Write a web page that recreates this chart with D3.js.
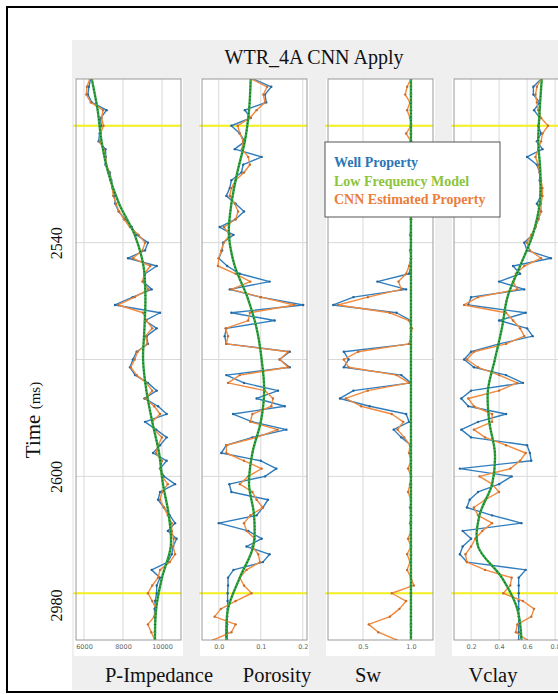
<!DOCTYPE html>
<html>
<head>
<meta charset="utf-8">
<script src="https://cdn.jsdelivr.net/npm/d3@7"></script>
<style>
  body { margin: 0; background: #fff; }
  svg { display: block; }
</style>
</head>
<body>
<svg id="chart" width="558" height="694"></svg>
<script>
// sample times (ms), one value every 2 ms
let times = [2498, 2500, 2502, 2504, 2506, 2508, 2510, 2512, 2514, 2516, 2518, 2520, 2522, 2524, 2526,
  2528, 2530, 2532, 2534, 2536, 2538, 2540, 2542, 2544, 2546, 2548, 2550, 2552, 2554, 2556, 2558,
  2560, 2562, 2564, 2566, 2568, 2570, 2572, 2574, 2576, 2578, 2580, 2582, 2584, 2586, 2588, 2590,
  2592, 2594, 2596, 2598, 2600, 2602, 2604, 2606, 2608, 2610, 2612, 2614, 2616, 2618, 2620, 2622,
  2624, 2626, 2628, 2630, 2632, 2634, 2636, 2638, 2640, 2642]

// low frequency model is smooth, read at a coarser step
let lfmTimes = [2498, 2506, 2514, 2522, 2530, 2538, 2546, 2554, 2562, 2570, 2578, 2586, 2594,
  2602, 2610, 2618, 2626, 2634, 2642]

// P-Impedance
let impWell = [6340, 6250, 6200, 6400, 7160, 6850, 6880, 6800, 6750, 7100, 7120, 7100, 7330, 7400, 7490,
  7550, 7600, 7780, 8100, 8450, 8700, 9280, 9130, 8260, 9730, 9130, 9030, 9470, 8500, 7590, 9900,
  9130, 9730, 9210, 9280, 8700, 8510, 8360, 8620, 9280, 9730, 9100, 9800, 10240, 9130, 9700, 10240,
  9900, 9540, 10240, 9900, 10100, 10670, 9900, 9800, 10100, 10400, 10670, 10300, 10750, 10570, 10500, 10300,
  9470, 9900, 9730, 9730, 9650, 9620, 9620, 9640, 9640, 9640]
let impCnn = [6300, 6150, 6120, 6350, 6980, 6900, 7000, 6850, 6800, 7000, 7100, 7150, 7300, 7350, 7450,
  7500, 7650, 7800, 8050, 8350, 8800, 9130, 9000, 8500, 9400, 9100, 9000, 9300, 8600, 7750, 9030,
  9200, 9500, 9150, 9250, 8750, 8600, 8400, 8700, 9200, 9500, 9150, 9600, 9900, 9500, 9600, 10000,
  9800, 9700, 10000, 9900, 10000, 10300, 10000, 9900, 10100, 10300, 10500, 10500, 10600, 10570, 10670, 10400,
  9900, 9800, 9500, 9280, 9500, 9700, 9600, 9280, 9450, 9640]
let impLfm = [6400, 6700, 6900, 7240, 7800, 8600, 9050, 9150, 9100, 9030, 9200, 9500, 9850,
  10050, 10350, 10450, 10000, 9700, 9640]
let impTicks = [6000, 8000, 10000]

// Porosity
let porWell = [0.082, 0.125, 0.110, 0.113, 0.062, 0.076, 0.030, 0.050, 0.062, 0.038, 0.102, 0.058, 0.054, 0.030, 0.026,
  0.018, 0.040, 0.060, 0.040, 0.002, 0.035, 0.010, 0.008, 0.000, 0.020, 0.050, 0.121, 0.026, 0.100, 0.201, 0.030,
  0.133, 0.018, 0.014, 0.018, 0.169, 0.145, 0.169, 0.018, 0.060, 0.141, 0.090, 0.157, 0.034, 0.080, 0.161, 0.080,
  0.018, 0.006, 0.100, 0.137, 0.110, 0.025, 0.030, 0.117, 0.105, 0.090, 0.000, 0.070, 0.102, 0.066, 0.121, 0.105,
  0.035, 0.022, 0.022, 0.021, 0.021, 0.021, 0.020, 0.020, 0.020, 0.020]
let porCnn = [0.078, 0.115, 0.106, 0.110, 0.090, 0.074, 0.045, 0.050, 0.058, 0.055, 0.070, 0.074, 0.060, 0.040, 0.030,
  0.026, 0.038, 0.046, 0.040, 0.012, 0.026, 0.012, 0.006, 0.000, -0.002, 0.040, 0.075, 0.030, 0.100, 0.180, 0.074,
  0.070, 0.016, 0.022, 0.018, 0.165, 0.145, 0.165, 0.050, 0.022, 0.110, 0.129, 0.125, 0.080, 0.075, 0.140, 0.090,
  0.018, 0.018, 0.060, 0.102, 0.070, 0.050, 0.080, 0.090, 0.105, 0.075, 0.060, 0.066, 0.086, 0.080, 0.094, 0.098,
  0.066, 0.050, 0.060, 0.078, 0.040, 0.005, -0.010, 0.040, 0.030, -0.013]
let porLfm = [0.076, 0.072, 0.062, 0.044, 0.030, 0.024, 0.038, 0.068, 0.090, 0.102, 0.108, 0.100, 0.080,
  0.072, 0.084, 0.082, 0.050, 0.022, 0.018]
let porTicks = [0.0, 0.1, 0.2]

// Sw
let swWell = [1, 1, 1, 1, 1, 1, 1, 1, 1, 1, 1, 1, 1, 1, 1,
  1, 1, 1, 1, 1, 1, 1, 1, 1, 1, 0.98, 0.65, 0.95, 0.40, 0.19, 0.85,
  1, 1, 1, 1, 0.30, 0.35, 0.30, 0.90, 1, 0.40, 0.26, 0.57, 0.95, 0.98, 0.82, 0.90,
  1, 1, 1, 1, 1, 1, 1, 1, 1, 1, 1, 1, 1, 1, 1, 1,
  1, 1, 1, 1, 1, 1, 1, 1, 1, 1]
let swCnn = [1, 0.96, 0.94, 0.99, 0.96, 0.99, 1, 0.95, 1, 0.99, 1, 0.99, 1, 1, 0.99,
  1, 1, 0.99, 1, 1, 0.99, 1, 0.99, 1, 0.98, 0.95, 0.87, 0.90, 0.55, 0.24, 0.78,
  0.98, 1.01, 1, 0.98, 0.45, 0.30, 0.35, 0.85, 0.98, 0.55, 0.32, 0.48, 0.80, 0.92, 0.86, 0.93,
  0.99, 0.98, 1, 0.97, 1, 0.99, 0.97, 1, 0.99, 1, 0.99, 1, 0.97, 1, 0.96, 0.99,
  0.96, 1, 1.03, 0.80, 0.95, 0.88, 0.78, 0.56, 0.66, 0.85]
let swLfm = [1, 1, 1, 1, 1, 1, 1, 1, 1, 1, 1, 1, 1, 1, 1, 1, 1, 1, 1]
let swTicks = [0.5, 1.0]

// Vclay
let vclWell = [0.70, 0.645, 0.645, 0.69, 0.65, 0.69, 0.68, 0.70, 0.67, 0.71, 0.60, 0.67, 0.69, 0.69, 0.70,
  0.70, 0.67, 0.70, 0.68, 0.66, 0.64, 0.58, 0.60, 0.77, 0.50, 0.55, 0.40, 0.58, 0.20, 0.18, 0.59,
  0.40, 0.60, 0.64, 0.40, 0.20, 0.15, 0.22, 0.45, 0.57, 0.20, 0.13, 0.18, 0.45, 0.25, 0.13, 0.20,
  0.60, 0.62, 0.63, 0.12, 0.49, 0.40, 0.25, 0.19, 0.17, 0.35, 0.56, 0.14, 0.20, 0.14, 0.12, 0.17,
  0.59, 0.54, 0.54, 0.54, 0.54, 0.54, 0.54, 0.54, 0.54, 0.54]
let vclCnn = [0.70, 0.67, 0.66, 0.67, 0.68, 0.70, 0.75, 0.71, 0.70, 0.68, 0.66, 0.68, 0.69, 0.70, 0.71,
  0.71, 0.70, 0.70, 0.68, 0.66, 0.63, 0.60, 0.62, 0.70, 0.58, 0.52, 0.50, 0.53, 0.25, 0.15, 0.45,
  0.50, 0.55, 0.58, 0.45, 0.22, 0.17, 0.25, 0.40, 0.53, 0.40, 0.18, 0.22, 0.35, 0.35, 0.22, 0.30,
  0.45, 0.59, 0.55, 0.48, 0.26, 0.35, 0.40, 0.30, 0.22, 0.25, 0.35, 0.28, 0.23, 0.20, 0.16, 0.17,
  0.30, 0.49, 0.48, 0.43, 0.57, 0.65, 0.63, 0.53, 0.52, 0.60]
let vclLfm = [0.705, 0.69, 0.68, 0.695, 0.69, 0.64, 0.55, 0.46, 0.42, 0.37, 0.32, 0.33, 0.37,
  0.35, 0.26, 0.25, 0.42, 0.53, 0.56]
let vclTicks = [0.2, 0.4, 0.6, 0.8]

// time axis
let yTickValues = [2540, 2600, 2633]
let yTickLabels = ['2540', '2600', '2980']
let gridTimes = [2510, 2540, 2570, 2600, 2630]
let markerTimes = [2510, 2630]

let legendNames = ['Well Property', 'Low Frequency Model', 'CNN Estimated Property']
let legendColors = ['#2a76b6', '#8cc43c', '#ec7d3a']

// table for drawing
let tracks = [
  { name: 'P-Impedance', domain: [5590, 10975], ticks: impTicks, fmt: d3.format('d'), well: impWell, cnn: impCnn, lfm: impLfm },
  { name: 'Porosity', domain: [-0.04, 0.21], ticks: porTicks, fmt: d3.format('.1f'), well: porWell, cnn: porCnn, lfm: porLfm },
  { name: 'Sw', domain: [0.135, 1.23], ticks: swTicks, fmt: d3.format('.1f'), well: swWell, cnn: swCnn, lfm: swLfm },
  { name: 'Vclay', domain: [0.078, 0.828], ticks: vclTicks, fmt: d3.format('.1f'), well: vclWell, cnn: vclCnn, lfm: vclLfm }
]
// bottom label centres
let labelCenters = [159, 277, 368, 493]

let serif = "'Liberation Serif', 'Times New Roman', serif"
let sans = "'DejaVu Sans', Arial, sans-serif"

let panelLeft = 76
let panelStep = 126
let panelWidth = 105
let plotTop = 79
let plotBottom = 640

let svg = d3.select('#chart')

let yScale = d3.scaleLinear().domain([2498, 2642]).range([plotTop, plotBottom])

// grey page background
svg.append('rect')
  .attr('x', 72).attr('y', 40)
  .attr('width', 490).attr('height', 650)
  .attr('fill', '#efefef')

// title
svg.append('text')
  .text('WTR_4A CNN Apply')
  .attr('x', 314).attr('y', 64)
  .attr('text-anchor', 'middle')
  .attr('font-family', serif)
  .attr('font-size', 20)
  .attr('fill', '#111')

tracks.forEach((tr, i) => {
  let x0 = panelLeft + i * panelStep
  let xScale = d3.scaleLinear().domain(tr.domain).range([0, panelWidth])
  let g = svg.append('g').attr('transform', 'translate(' + x0 + ',0)')

  // white plot area + tick strip
  g.append('rect')
    .attr('x', -2).attr('y', plotTop)
    .attr('width', panelWidth + 4).attr('height', plotBottom - plotTop + 16)
    .attr('fill', '#fff')

  // grid
  g.selectAll('.vgrid')
    .data(tr.ticks)
    .enter().append('line')
    .attr('x1', d => xScale(d)).attr('x2', d => xScale(d))
    .attr('y1', plotTop).attr('y2', plotBottom)
    .attr('stroke', '#d9d9d9').attr('stroke-width', 1)
  g.selectAll('.hgrid')
    .data(gridTimes)
    .enter().append('line')
    .attr('x1', 0).attr('x2', panelWidth)
    .attr('y1', d => yScale(d)).attr('y2', d => yScale(d))
    .attr('stroke', '#d9d9d9').attr('stroke-width', 1)

  // yellow marker horizons
  g.selectAll('.marker')
    .data(markerTimes)
    .enter().append('line')
    .attr('x1', -3).attr('x2', panelWidth)
    .attr('y1', d => yScale(d)).attr('y2', d => yScale(d))
    .attr('stroke', '#f4f01e').attr('stroke-width', 2)

  let clipId = 'clip' + i
  g.append('clipPath').attr('id', clipId)
    .append('rect')
    .attr('x', 0).attr('y', plotTop)
    .attr('width', panelWidth).attr('height', plotBottom - plotTop)
  let plot = g.append('g').attr('clip-path', 'url(#' + clipId + ')')

  let line = d3.line()
    .x(d => xScale(d[1]))
    .y(d => yScale(d[0]))

  let wellPts = times.map((t, k) => [t, tr.well[k]])
  let cnnPts = times.map((t, k) => [t, tr.cnn[k]])
  let lfmPts = lfmTimes.map((t, k) => [t, tr.lfm[k]])

  let series = [[wellPts, '#2f7dbd'], [cnnPts, '#f28a3e']]
  series.forEach(s => {
    plot.append('path')
      .datum(s[0])
      .attr('d', line)
      .attr('fill', 'none')
      .attr('stroke', s[1])
      .attr('stroke-width', 1.4)
      .attr('stroke-linejoin', 'round')
    plot.selectAll(null)
      .data(s[0])
      .enter().append('circle')
      .attr('cx', d => xScale(d[1]))
      .attr('cy', d => yScale(d[0]))
      .attr('r', 1.2)
      .attr('fill', d3.color(s[1]).darker(0.6))
  })

  let smooth = d3.line()
    .curve(d3.curveCatmullRom.alpha(0.5))
    .x(d => xScale(d[1]))
    .y(d => yScale(d[0]))
  plot.append('path')
    .datum(lfmPts)
    .attr('d', smooth)
    .attr('fill', 'none')
    .attr('stroke', '#35a845')
    .attr('stroke-width', 2.4)
  plot.append('path')
    .datum(lfmPts)
    .attr('d', smooth)
    .attr('fill', 'none')
    .attr('stroke', '#136b22')
    .attr('stroke-width', 1.6)
    .attr('stroke-dasharray', '1,2.4')

  // frame
  g.append('rect')
    .attr('x', 0).attr('y', plotTop)
    .attr('width', panelWidth).attr('height', plotBottom - plotTop)
    .attr('fill', 'none')
    .attr('stroke', '#9a9a9a').attr('stroke-width', 1)

  // bottom axis
  let xAxis = d3.axisBottom(xScale).tickValues(tr.ticks).tickFormat(tr.fmt).tickSize(0).tickPadding(4)
  g.append('g')
    .attr('class', 'axis x-axis')
    .attr('transform', 'translate(0,' + plotBottom + ')')
    .call(xAxis)
    .call(a => a.select('.domain').remove())
    .selectAll('text')
    .attr('font-family', sans)
    .attr('font-size', 6.5)
    .attr('fill', '#666')

  // track name
  svg.append('text')
    .text(tr.name)
    .attr('x', labelCenters[i]).attr('y', 682)
    .attr('text-anchor', 'middle')
    .attr('font-family', serif)
    .attr('font-size', 20.5)
    .attr('fill', '#111')
})

// time axis labels, rotated
let yAxis = d3.axisLeft(yScale)
  .tickValues(yTickValues)
  .tickFormat((d, i) => yTickLabels[i])
  .tickSize(0)
svg.append('g')
  .attr('class', 'axis y-axis')
  .attr('transform', 'translate(' + panelLeft + ',0)')
  .call(yAxis)
  .call(a => a.select('.domain').remove())
  .selectAll('text')
  .attr('x', 0).attr('y', 0).attr('dy', 0)
  .attr('transform', 'translate(-14,0) rotate(-90)')
  .attr('text-anchor', 'middle')
  .attr('font-family', serif)
  .attr('font-size', 16)
  .attr('fill', '#111')

let yTitle = svg.append('text')
  .attr('transform', 'translate(40,420) rotate(-90)')
  .attr('text-anchor', 'middle')
  .attr('font-family', serif)
  .attr('fill', '#111')
yTitle.append('tspan').text('Time ').attr('font-size', 21)
yTitle.append('tspan').text('(ms)').attr('font-size', 15)

// legend
let legend = svg.append('g').attr('transform', 'translate(325,142)')
legend.append('rect')
  .attr('width', 175).attr('height', 75)
  .attr('fill', '#fff')
  .attr('stroke', '#555').attr('stroke-width', 1)
legend.selectAll('text')
  .data(legendNames)
  .enter().append('text')
  .text(d => d)
  .attr('x', 9)
  .attr('y', (d, i) => 25 + i * 18.5)
  .attr('font-family', serif)
  .attr('font-weight', 'bold')
  .attr('font-size', 14)
  .attr('fill', (d, i) => legendColors[i])

// outer border
svg.append('rect')
  .attr('x', 7).attr('y', 7)
  .attr('width', 600).attr('height', 685)
  .attr('fill', 'none')
  .attr('stroke', '#000').attr('stroke-width', 2)
</script>
</body>
</html>
